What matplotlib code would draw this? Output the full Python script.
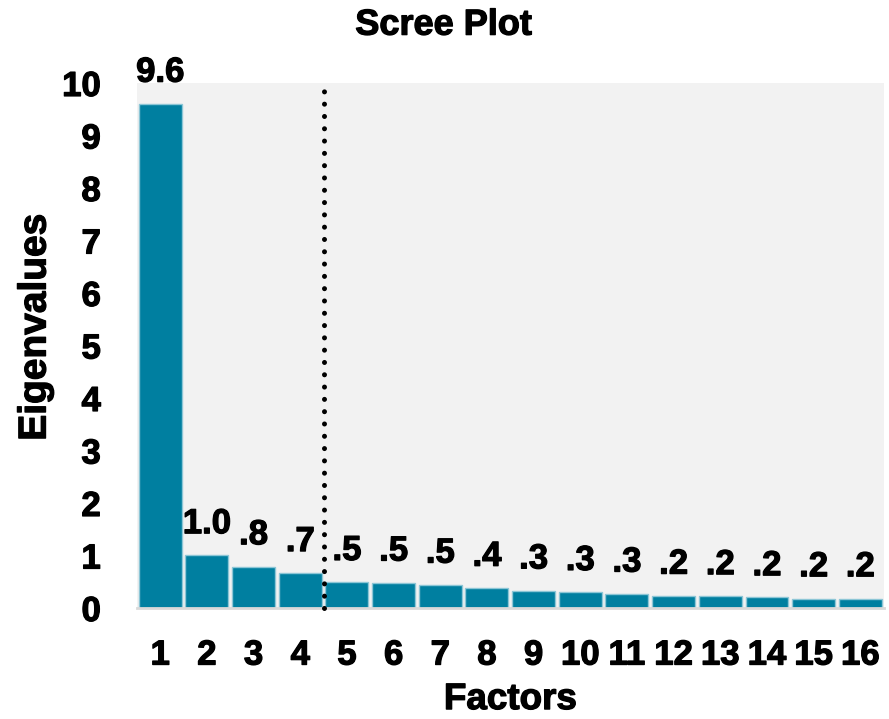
import matplotlib

matplotlib.use("Agg")

import matplotlib.pyplot as plt
import matplotlib.patheffects as pe

plt.rcParams["font.family"] = ["Liberation Sans", "DejaVu Sans"]
plt.rcParams["font.weight"] = "bold"

# data
factors = [str(i) for i in range(1, 17)]
eigenvalues = [9.6, 1.0, 0.79, 0.66, 0.49, 0.48, 0.44, 0.38,
               0.33, 0.30, 0.27, 0.23, 0.22, 0.20, 0.18, 0.18]
value_labels = ["9.6", "1.0", ".8", ".7", ".5", ".5", ".5", ".4",
                ".3", ".3", ".3", ".2", ".2", ".2", ".2", ".2"]
cutoff = 4.5
y_ticks = list(range(0, 11))

bar_color = "#007FA0"
heavy = [pe.withStroke(linewidth=0.9, foreground="black")]

fig = plt.figure(figsize=(8.89, 7.19), dpi=100)
ax = fig.add_axes([0.154, 0.1544, 0.840, 0.7302])
ax.set_facecolor("#F2F2F2")

x = list(range(1, len(factors) + 1))
bars = ax.bar(x, eigenvalues, width=0.92, color=bar_color,
              edgecolor="#8cc6d6", linewidth=1, zorder=2)

for xi, yi, lab in zip(x, eigenvalues, value_labels):
    ax.annotate(lab, (xi, yi), xytext=(0, 11), textcoords="offset points",
                ha="center", va="bottom", fontsize=25, fontweight="bold",
                clip_on=False, path_effects=heavy)

# cut-off line
ax.plot([cutoff, cutoff], [0, 10], color="black", lw=3.6,
        linestyle=(0, (0.01, 2.45)), dash_capstyle="round", zorder=3,
        clip_on=False)

ax.set_xlim(0.5, len(factors) + 0.5)
ax.set_ylim(0, 10)
ax.set_xticks(x)
ax.set_xticklabels(factors)
ax.set_yticks(y_ticks)
ax.tick_params(axis="both", length=0, labelsize=25)
ax.tick_params(axis="x", pad=22)
ax.tick_params(axis="y", pad=26)
for lab in ax.get_xticklabels() + ax.get_yticklabels():
    lab.set_fontweight("bold")
    lab.set_path_effects(heavy)

for side in ["top", "right", "left"]:
    ax.spines[side].set_visible(False)
ax.spines["bottom"].set_color("#D9D9D9")
ax.spines["bottom"].set_linewidth(2)

fig.text(0.499, 0.965, "Scree Plot", ha="center", va="center",
         fontsize=26, fontweight="bold", path_effects=heavy)
fig.text(0.574, 0.027, "Factors", ha="center", va="center",
         fontsize=26.5, fontweight="bold", path_effects=heavy)
fig.text(0.040, 0.545, "Eigenvalues", ha="center", va="center",
         rotation=90, fontsize=28, fontweight="bold", path_effects=heavy)

plt.savefig("out.png", dpi=100)
plt.close()
